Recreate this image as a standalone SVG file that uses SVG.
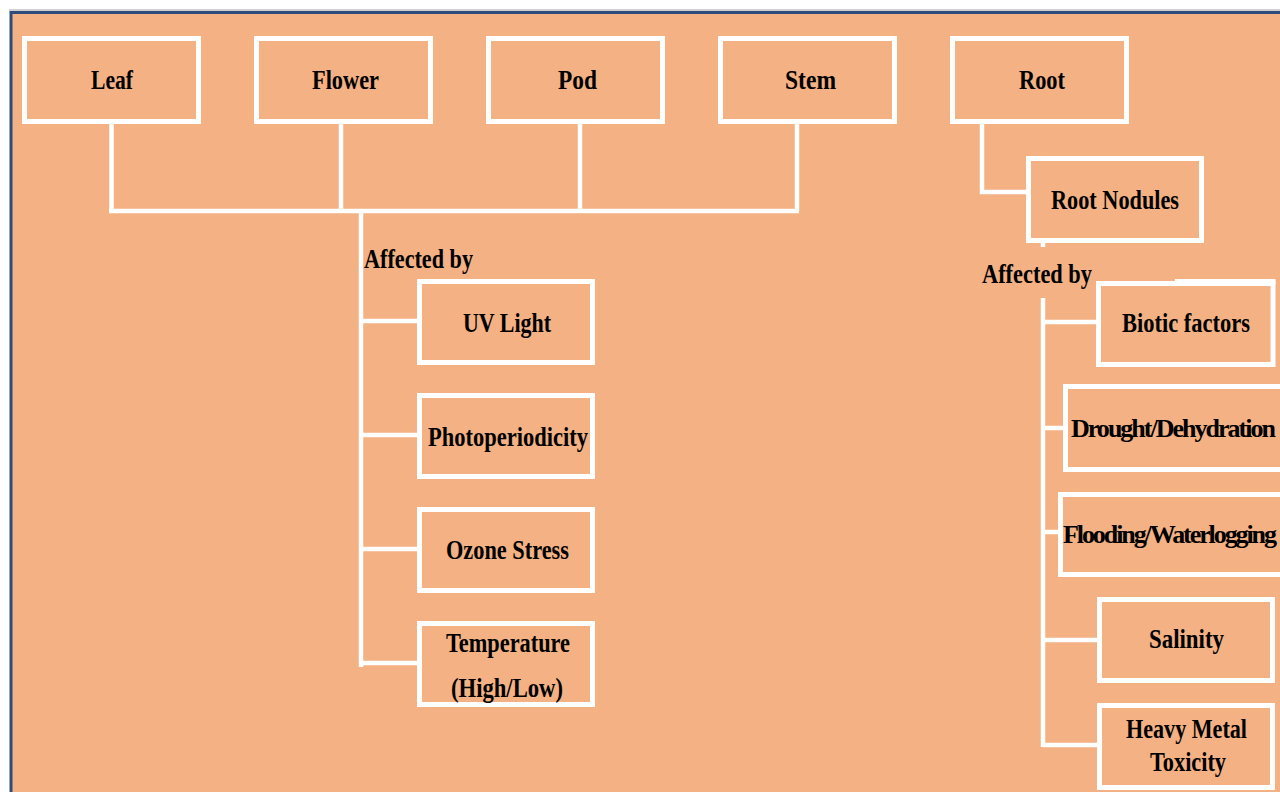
<svg xmlns="http://www.w3.org/2000/svg" width="1280" height="792" viewBox="0 0 1280 792">
<style>
.box{fill:none;stroke:#FFFFFF;stroke-width:5}
.con{fill:none;stroke:#FFFFFF;stroke-width:4.5}
.t{font-family:"Liberation Serif","Times New Roman",serif;font-weight:bold;font-size:28px;fill:#000000;text-anchor:middle}
.ts{font-family:"Liberation Serif","Times New Roman",serif;font-weight:bold;font-size:28px;fill:#000000;text-anchor:start}
.tw{font-family:"Liberation Serif","Times New Roman",serif;font-weight:bold;font-size:26px;fill:#000000;text-anchor:start}
</style>
<rect x="0" y="0" width="1280" height="792" fill="#FFFFFF"/>
<rect x="11" y="12.5" width="1290" height="800" fill="#F4B183" stroke="#2F4B7C" stroke-width="3"/>
<line x1="9" y1="10" x2="1280" y2="10" stroke="#A0A0A0" stroke-width="1"/>

<g id="connectors">
<path class="con" d="M111.5 122 V211 M341 122 V211 M580 122 V211 M797 122 V211 M109 211 H799"/>
<path class="con" d="M361 209 V667 M361 321 H420 M361 435 H420 M361 549 H420 M361 663 H420"/>
<path class="con" d="M982 122 V192 H1029"/>
<path class="con" d="M1043 241 V247 M1043 298 V747 M1043 322 H1099 M1043 428 H1066 M1043 532 H1061 M1043 640 H1100 M1043 745 H1100"/>
</g>

<g id="leaf"><rect class="box" x="24.5" y="38.5" width="174" height="83"/><text class="t" x="112" y="89" textLength="42" lengthAdjust="spacingAndGlyphs">Leaf</text></g>
<g id="flower"><rect class="box" x="256.5" y="38.5" width="174" height="83"/><text class="t" x="345.5" y="89" textLength="67" lengthAdjust="spacingAndGlyphs">Flower</text></g>
<g id="pod"><rect class="box" x="488.5" y="38.5" width="174" height="83"/><text class="t" x="577.5" y="89" textLength="39" lengthAdjust="spacingAndGlyphs">Pod</text></g>
<g id="stem"><rect class="box" x="720.5" y="38.5" width="174" height="83"/><text class="t" x="810.5" y="89" textLength="51" lengthAdjust="spacingAndGlyphs">Stem</text></g>
<g id="root"><rect class="box" x="952.5" y="38.5" width="174" height="83"/><text class="t" x="1042" y="89" textLength="46" lengthAdjust="spacingAndGlyphs">Root</text></g>
<g id="root-nodules"><rect class="box" x="1028.5" y="158.5" width="173" height="82"/><text class="t" x="1115" y="209" textLength="128" lengthAdjust="spacingAndGlyphs">Root Nodules</text></g>

<g id="affected-left"><text class="ts" x="364" y="268" textLength="109" lengthAdjust="spacingAndGlyphs">Affected by</text></g>
<g id="affected-right"><text class="ts" x="982" y="283" textLength="110" lengthAdjust="spacingAndGlyphs">Affected by</text></g>

<g id="uv-light"><rect class="box" x="419.5" y="281.5" width="173" height="81"/><text class="t" x="507" y="332" textLength="88" lengthAdjust="spacingAndGlyphs">UV Light</text></g>
<g id="photoperiodicity"><rect class="box" x="419.5" y="395.5" width="173" height="81"/><text class="t" x="508" y="446" textLength="160" lengthAdjust="spacingAndGlyphs">Photoperiodicity</text></g>
<g id="ozone-stress"><rect class="box" x="419.5" y="509.5" width="173" height="81"/><text class="t" x="507.5" y="559" textLength="123" lengthAdjust="spacingAndGlyphs">Ozone Stress</text></g>
<g id="temperature"><rect class="box" x="419.5" y="623.5" width="173" height="81"/><text class="t" x="508" y="652" textLength="124" lengthAdjust="spacingAndGlyphs">Temperature</text><text class="t" x="507" y="697" textLength="112" lengthAdjust="spacingAndGlyphs">(High/Low)</text></g>

<g id="biotic"><rect class="box" x="1098.5" y="283.5" width="174.5" height="81"/><line class="box" x1="1175" y1="281.5" x2="1275.5" y2="281.5"/><text class="t" x="1186" y="332" textLength="128" lengthAdjust="spacingAndGlyphs">Biotic factors</text></g>
<g id="drought"><rect class="box" x="1065.5" y="386.5" width="230" height="83"/><text class="tw" x="1071" y="437" textLength="205">Drought/Dehydration</text></g>
<g id="flooding"><rect class="box" x="1060.5" y="494.5" width="235" height="80"/><text class="tw" x="1063" y="543" textLength="214">Flooding/Waterlogging</text></g>
<g id="salinity"><rect class="box" x="1099.5" y="599.5" width="173" height="81"/><text class="t" x="1186.5" y="648" textLength="75" lengthAdjust="spacingAndGlyphs">Salinity</text></g>
<g id="heavy-metal"><rect class="box" x="1099.5" y="705.5" width="173" height="82"/><text class="t" x="1186.5" y="738" textLength="121" lengthAdjust="spacingAndGlyphs">Heavy Metal</text><text class="t" x="1188" y="771" textLength="76" lengthAdjust="spacingAndGlyphs">Toxicity</text></g>
</svg>
